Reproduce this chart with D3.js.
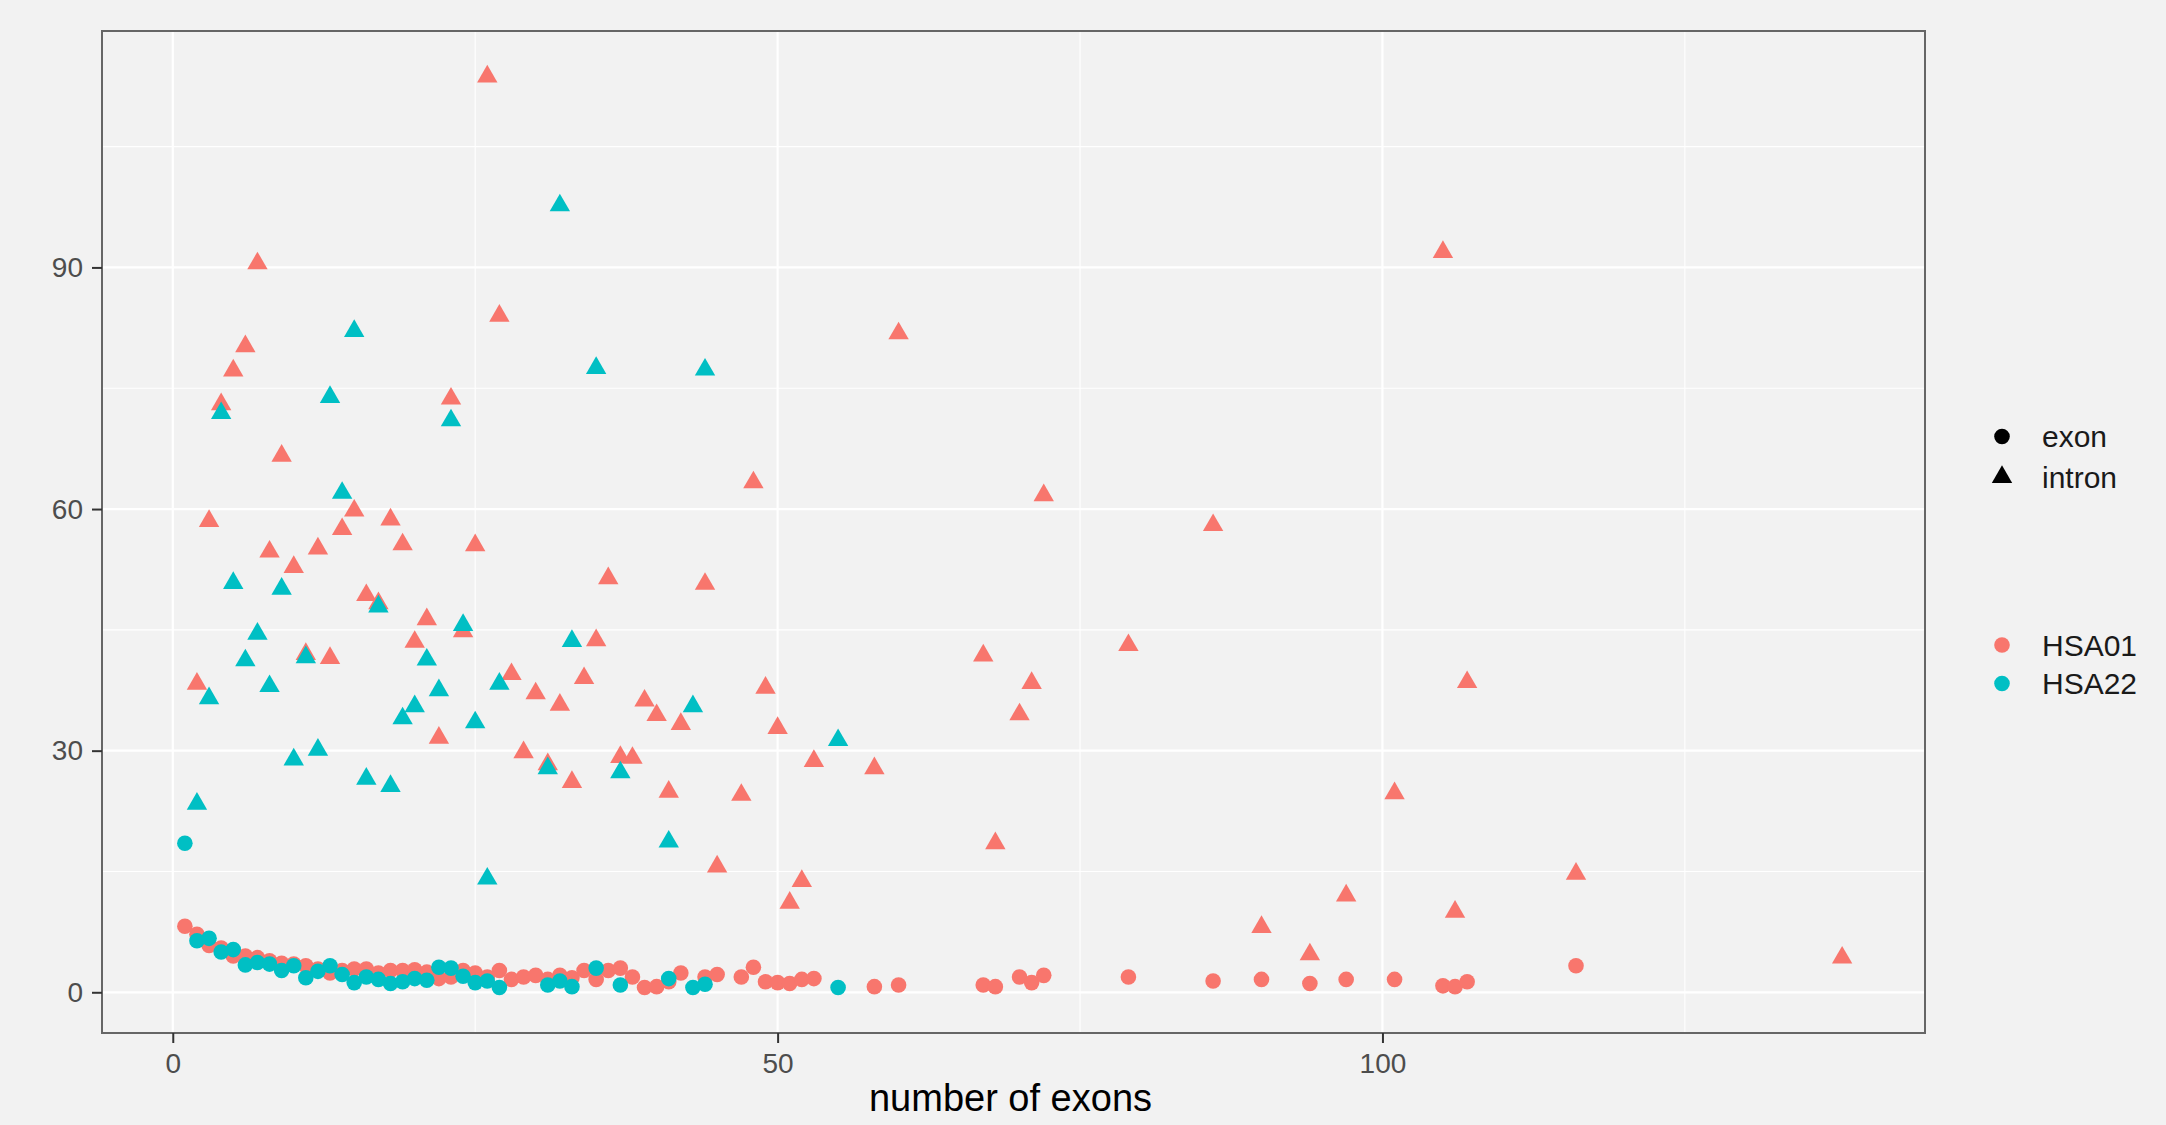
<!DOCTYPE html>
<html>
<head>
<meta charset="utf-8">
<script src="https://cdnjs.cloudflare.com/ajax/libs/d3/7.8.5/d3.min.js"></script>
<style>
    body { margin: 0; background: #F2F2F2; }
    text { font-family: "Liberation Sans", Arial, Helvetica, sans-serif; }
</style>
</head>
<body>
<div id="chart"></div>
<script>
//数据 [外显子数, 长度]
var hsa01Exon = [[1,8.2],[2,7.2],[3,5.8],[4,5.5],[5,4.5],[6,4.5],[7,4.3],[8,3.9],[9,3.6],[10,3.5],
    [11,3.3],[12,2.9],[13,2.4],[14,2.7],[15,2.9],[16,2.9],[17,2.4],[18,2.7],[19,2.7],[20,2.8],
    [21,2.5],[22,1.7],[23,1.9],[24,2.7],[25,2.4],[26,1.9],[27,2.7],[28,1.6],[29,1.9],[30,2.1],
    [31,1.6],[32,2.1],[33,1.8],[34,2.7],[35,1.6],[36,2.7],[37,3.0],[38,1.9],[39,0.6],[40,0.7],
    [41,1.3],[42,2.4],[44,1.9],[45,2.2],[47,1.9],[48,3.1],[49,1.3],[50,1.2],[51,1.1],[52,1.6],
    [53,1.7],[58,0.7],[60,0.9],[67,0.9],[68,0.7],[70,1.9],[71,1.2],[72,2.1],[79,1.9],[86,1.4],
    [90,1.6],[94,1.1],[97,1.6],[101,1.6],[105,0.8],[106,0.7],[107,1.3],[116,3.3]];
var hsa01Intron = [[2,38.3],[3,58.5],[4,73.0],[5,77.2],[6,80.2],[7,90.5],[8,54.7],[9,66.6],[10,52.8],
    [11,42.0],[12,55.1],[13,41.5],[14,57.5],[15,59.8],[16,49.3],[17,48.3],[18,58.7],[19,55.6],[20,43.5],
    [21,46.3],[22,31.6],[23,73.7],[24,44.8],[25,55.5],[26,113.7],[27,84.0],[28,39.5],[29,29.8],[30,37.1],
    [31,28.3],[32,35.7],[33,26.1],[34,39.0],[35,43.7],[36,51.4],[37,29.2],[38,29.1],[39,36.2],[40,34.4],
    [41,24.9],[42,33.3],[44,50.7],[45,15.6],[47,24.5],[48,63.3],[49,37.8],[50,32.8],[51,11.1],[52,13.8],
    [53,28.7],[58,27.8],[60,81.8],[67,41.8],[68,18.5],[70,34.5],[71,38.4],[72,61.7],[79,43.1],[86,58.0],
    [90,8.1],[94,4.7],[97,12.0],[101,24.7],[105,91.9],[106,10.0],[107,38.5],[116,14.7],[138,4.3]];
var hsa22Exon = [[1,18.5],[2,6.4],[3,6.7],[4,5.0],[5,5.3],[6,3.4],[7,3.7],[8,3.5],[9,2.7],[10,3.3],
    [11,1.8],[12,2.6],[13,3.3],[14,2.2],[15,1.2],[16,1.9],[17,1.6],[18,1.1],[19,1.3],[20,1.7],
    [21,1.5],[22,3.1],[23,3.0],[24,2.0],[25,1.2],[26,1.4],[27,0.6],[31,0.9],[32,1.4],[33,0.7],
    [35,3.0],[37,0.9],[41,1.7],[43,0.6],[44,1.0],[55,0.6]];
var hsa22Intron = [[2,23.4],[3,36.5],[4,71.9],[5,50.8],[6,41.2],[7,44.5],[8,38.0],[9,50.1],[10,28.9],
    [11,41.6],[12,30.1],[13,73.9],[14,62.0],[15,82.1],[16,26.5],[17,47.9],[18,25.6],[19,34.0],[20,35.5],
    [21,41.3],[22,37.5],[23,71.0],[24,45.6],[25,33.5],[26,14.1],[27,38.3],[31,27.8],[32,97.7],[33,43.6],
    [35,77.5],[37,27.3],[41,18.7],[43,35.5],[44,77.3],[55,31.3]];
var xTicks = [0, 50, 100];
var yTicks = [0, 30, 60, 90];
var xMinor = [25, 75, 125];
var yMinor = [15, 45, 75, 105];
var shapeKeys = ['exon', 'intron'];
var colorKeys = ['HSA01', 'HSA22'];
var colors = {HSA01: '#F8766D', HSA22: '#00BFC4'};

//画布与绘图区
var width = 2166, height = 1125;
var panel = {left: 102, right: 1925, top: 31, bottom: 1033};
var dotR = 7.8;
var triSize = 180;

//合并成一张表, HSA01 先画, HSA22 在上面
var rows = [];
[['HSA01', 'exon', hsa01Exon], ['HSA01', 'intron', hsa01Intron],
 ['HSA22', 'exon', hsa22Exon], ['HSA22', 'intron', hsa22Intron]].forEach(function (s) {
    s[2].forEach(function (p) {
        rows.push({chr: s[0], type: s[1], n: p[0], len: p[1]});
    });
});

//ggplot 默认 5% 扩展
function expand(ext) {
    var pad = (ext[1] - ext[0]) * 0.05;
    return [ext[0] - pad, ext[1] + pad];
}
var x = d3.scaleLinear()
    .domain(expand(d3.extent(rows, function (d) { return d.n; })))
    .range([panel.left, panel.right]);
var y = d3.scaleLinear()
    .domain(expand(d3.extent(rows, function (d) { return d.len; })))
    .range([panel.bottom, panel.top]);

var svg = d3.select('#chart').append('svg')
    .attr('width', width)
    .attr('height', height);

svg.append('rect')
    .attr('width', width).attr('height', height)
    .attr('fill', '#F2F2F2');

//网格
var grid = svg.append('g');
grid.selectAll('.ymin').data(yMinor).enter().append('line')
    .attr('x1', panel.left).attr('x2', panel.right)
    .attr('y1', y).attr('y2', y)
    .attr('stroke', '#ffffff').attr('stroke-width', 1.1);
grid.selectAll('.xmin').data(xMinor).enter().append('line')
    .attr('y1', panel.top).attr('y2', panel.bottom)
    .attr('x1', x).attr('x2', x)
    .attr('stroke', '#ffffff').attr('stroke-width', 1.1);
grid.selectAll('.ymaj').data(yTicks).enter().append('line')
    .attr('x1', panel.left).attr('x2', panel.right)
    .attr('y1', y).attr('y2', y)
    .attr('stroke', '#ffffff').attr('stroke-width', 2.2);
grid.selectAll('.xmaj').data(xTicks).enter().append('line')
    .attr('y1', panel.top).attr('y2', panel.bottom)
    .attr('x1', x).attr('x2', x)
    .attr('stroke', '#ffffff').attr('stroke-width', 2.2);

//散点
var tri = d3.symbol().type(d3.symbolTriangle).size(triSize);
rows.forEach(function (d) {
    if (d.type == 'exon') {
        svg.append('circle')
            .attr('cx', x(d.n)).attr('cy', y(d.len))
            .attr('r', dotR)
            .attr('fill', colors[d.chr]);
    } else {
        svg.append('path')
            .attr('d', tri)
            .attr('transform', 'translate(' + x(d.n) + ',' + y(d.len) + ')')
            .attr('fill', colors[d.chr]);
    }
});

//边框
svg.append('rect')
    .attr('x', panel.left).attr('y', panel.top)
    .attr('width', panel.right - panel.left)
    .attr('height', panel.bottom - panel.top)
    .attr('fill', 'none')
    .attr('stroke', '#666666')
    .attr('stroke-width', 2);

//坐标轴
var xAxis = svg.append('g')
    .attr('transform', 'translate(0,' + panel.bottom + ')')
    .call(d3.axisBottom(x).tickValues(xTicks).tickSize(10).tickPadding(10.5));
var yAxis = svg.append('g')
    .attr('transform', 'translate(' + panel.left + ',0)')
    .call(d3.axisLeft(y).tickValues(yTicks).tickSize(10).tickPadding(9));
[xAxis, yAxis].forEach(function (a) {
    a.select('.domain').remove();
    a.selectAll('line').attr('stroke', '#333333').attr('stroke-width', 2);
    a.selectAll('text')
        .attr('font-size', 28)
        .attr('fill', '#4D4D4D')
        .style('font-family', '"Liberation Sans", Arial, sans-serif');
});

svg.append('text')
    .attr('x', (panel.left + panel.right) / 2 - 3)
    .attr('y', 1111)
    .attr('text-anchor', 'middle')
    .attr('font-size', 38)
    .attr('fill', '#000000')
    .text('number of exons');

//图例
var keyX = 2002, labelX = 2042;
var shapeLegend = svg.append('g');
shapeKeys.forEach(function (k, i) {
    var cy = 436.5 + i * 40.5;
    if (k == 'exon') {
        shapeLegend.append('circle').attr('cx', keyX).attr('cy', cy).attr('r', dotR).attr('fill', '#000');
    } else {
        shapeLegend.append('path').attr('d', tri)
            .attr('transform', 'translate(' + keyX + ',' + cy + ')').attr('fill', '#000');
    }
    shapeLegend.append('text')
        .attr('x', labelX).attr('y', cy).attr('dy', '0.35em')
        .attr('font-size', 30).attr('fill', '#1A1A1A')
        .text(k);
});
var colorLegend = svg.append('g');
colorKeys.forEach(function (k, i) {
    var cy = 645 + i * 38.5;
    colorLegend.append('circle').attr('cx', keyX).attr('cy', cy).attr('r', dotR).attr('fill', colors[k]);
    colorLegend.append('text')
        .attr('x', labelX).attr('y', cy).attr('dy', '0.35em')
        .attr('font-size', 30).attr('fill', '#1A1A1A')
        .text(k);
});
</script>
</body>
</html>
